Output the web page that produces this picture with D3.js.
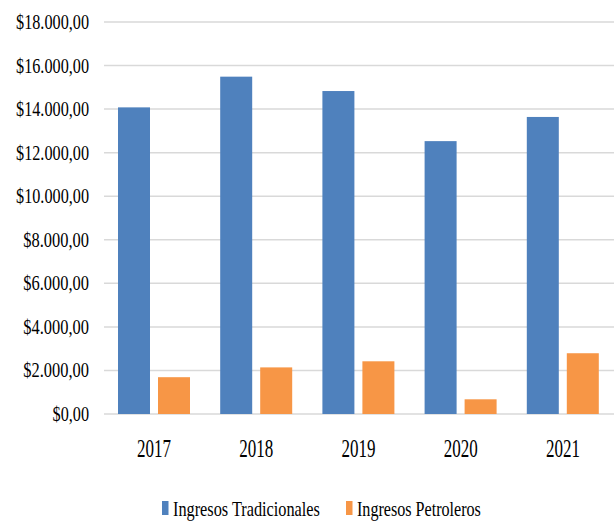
<!DOCTYPE html>
<html><head><meta charset="utf-8">
<script src="https://cdn.jsdelivr.net/npm/d3@7"></script>
<style>html,body{margin:0;padding:0;background:#fff;}svg{display:block;}
svg text{font-family:"Liberation Serif","Times New Roman","DejaVu Serif",serif;}</style>
</head><body>
<svg id="c" width="615" height="523"></svg>
<script>
const years = ["2017","2018","2019","2020","2021"];
const seriesNames = ["Ingresos Tradicionales","Ingresos Petroleros"];
const tradicionales = [14080, 15490, 14830, 12530, 13640];
const petroleros = [1690, 2140, 2420, 675, 2790];
const yTicks = [0,2000,4000,6000,8000,10000,12000,14000,16000,18000];
const colors = ["#4F81BD","#F79646"];

const svg = d3.select("#c");
const x0 = d3.scaleBand().domain(years).range([103,614]).padding(0);
const x1 = d3.scaleBand().domain(seriesNames).range([15,87]).paddingInner(0.2);
const y = d3.scaleLinear().domain([0,18000]).range([414,22]);
const loc = d3.formatLocale({decimal:",",thousands:".",grouping:[3],currency:["$",""]});
const fmt = loc.format("$,.2f");

// fit text to a target width by horizontal scaling
function fit(sel, widthFn){
  sel.each(function(d,i){
    const w = this.getComputedTextLength();
    const s = widthFn(d,i)/w;
    const t = d3.select(this);
    t.attr("transform", t.attr("data-tr") + ` scale(${s},1)`);
  });
}

// gridlines
svg.append("g").selectAll("line").data(yTicks).join("line")
  .attr("x1",104).attr("x2",614)
  .attr("y1",d=>y(d)).attr("y2",d=>y(d))
  .attr("stroke","#d9d9d9").attr("stroke-width",1.5);

// y labels
const yl = svg.append("g").selectAll("text").data(yTicks).join("text")
  .attr("data-tr",d=>`translate(89,${y(d)+7})`)
  .attr("text-anchor","end")
  .attr("font-size",21).attr("fill","#000")
  .text(d=>fmt(d));
fit(yl, d=>fmt(d).length*7.3);

// bars
const data = years.map((yr,i)=>({year:yr, vals:[tradicionales[i], petroleros[i]]}));
const g = svg.append("g").selectAll("g").data(data).join("g")
  .attr("transform",d=>`translate(${x0(d.year)},0)`);
g.selectAll("rect").data(d=>d.vals.map((v,k)=>({k,v}))).join("rect")
  .attr("x",d=>x1(seriesNames[d.k]))
  .attr("width",x1.bandwidth())
  .attr("y",d=>y(d.v))
  .attr("height",d=>y(0)-y(d.v))
  .attr("fill",d=>colors[d.k]);

// x labels
const xl = svg.append("g").selectAll("text").data(years).join("text")
  .attr("data-tr",d=>`translate(${x0(d)+x0.bandwidth()/2},457)`)
  .attr("text-anchor","middle")
  .attr("font-size",26).attr("fill","#000")
  .text(d=>d);
fit(xl, ()=>34);

// legend
const legX = [162, 346];
const legW = [147, 124];
const lg = svg.append("g").selectAll("g").data(seriesNames).join("g");
lg.append("rect").attr("x",(d,i)=>legX[i]).attr("y",501).attr("width",6.5).attr("height",14)
  .attr("fill",(d,i)=>colors[i]);
const lt = lg.append("text")
  .attr("data-tr",(d,i)=>`translate(${legX[i]+11},516)`)
  .attr("font-size",22).attr("fill","#000")
  .text(d=>d);
fit(lt, (d,i)=>legW[i]);
</script>
</body></html>
